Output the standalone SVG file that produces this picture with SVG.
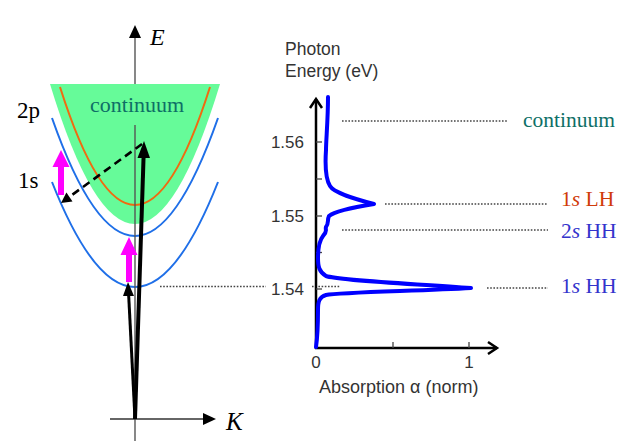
<svg xmlns="http://www.w3.org/2000/svg" width="619" height="441" viewBox="0 0 619 441">
<style>
.serif{font-family:"Liberation Serif","Times New Roman",serif}
.sans{font-family:"Liberation Sans",Arial,sans-serif;fill:#333}
.dot{stroke:#444;stroke-width:1.6;stroke-dasharray:1.6 1.6;fill:none}
.blue{stroke:#1f6fe8;stroke-width:2;fill:none}
.tick{stroke:#444;stroke-width:1.3}
.teal{fill:#0e6f66}
</style>
<rect width="619" height="441" fill="#ffffff"/>
<g id="band-diagram">
  <g id="continuum-region">
    <path d="M50,84 Q135,364 220,84 Z" fill="#66fb99"/>
    <path d="M60,87 Q135,323 210,87" fill="none" stroke="#f06a10" stroke-width="2"/>
    <text class="serif teal" x="90" y="112" font-size="22">continuum</text>
  </g>
  <g id="band-2p"><path class="blue" d="M52,118 Q135,354 218,118"/></g>
  <g id="band-1s"><path class="blue" d="M52,182 Q135,392 218,182"/></g>
  <g id="axis-E">
    <line x1="135" y1="37" x2="135" y2="84" stroke="#555" stroke-width="1.4"/>
    <line x1="135" y1="125" x2="135" y2="441" stroke="#555" stroke-width="1.4"/>
    <polygon points="135,25 141,38 129,38" fill="#000"/>
    <text class="serif" x="150" y="45" font-size="24" font-style="italic">E</text>
  </g>
  <g id="axis-K">
    <line x1="110" y1="419" x2="204" y2="419" stroke="#333" stroke-width="1.4"/>
    <polygon points="216,419 203,413 203,425" fill="#000"/>
    <text class="serif" x="226" y="430" font-size="25" font-style="italic">K</text>
  </g>
  <g id="label-2p"><text class="serif" x="17" y="118" font-size="23">2p</text></g>
  <g id="label-1s"><text class="serif" x="18" y="188" font-size="23">1s</text></g>
</g>
<g id="connectors">
  <line x1="135" y1="419" x2="143.6" y2="156" stroke="#000" stroke-width="4"/>
  <polygon points="144,141 150,158 137.5,158" fill="#000"/>
  <line x1="135" y1="419" x2="128.6" y2="294" stroke="#000" stroke-width="3"/>
  <polygon points="128,282 134,296 123,296" fill="#000"/>
  <line x1="142" y1="144" x2="69.1" y2="197.1" stroke="#000" stroke-width="2.6" stroke-dasharray="8 5"/>
  <polygon points="61,203 72.5,201.5 66.4,192.5" fill="#000"/>
  <polygon points="61,150 69.5,167 64,167 64,195 58,195 58,167 52.5,167" fill="#ff00ff"/>
  <polygon points="129,237 137.5,255 132,255 132,282 126,282 126,255 120.5,255" fill="#ff00ff"/>
  <line class="dot" x1="160" y1="286.5" x2="266" y2="286.5"/>
  <line class="dot" x1="312" y1="286.5" x2="340" y2="286.5"/>
  <line class="dot" x1="342" y1="121" x2="507" y2="121"/>
  <line class="dot" x1="385" y1="204" x2="548" y2="204"/>
  <line class="dot" x1="342" y1="230" x2="548" y2="230"/>
  <line class="dot" x1="487" y1="288" x2="548" y2="288"/>
</g>
<g id="spectrum-plot">
  <text class="sans" x="285" y="55" font-size="17.5">Photon</text>
  <text class="sans" x="285" y="77" font-size="17.5">Energy (eV)</text>
  <line x1="316" y1="349" x2="316" y2="99" stroke="#000" stroke-width="2.5"/>
  <polyline points="310,108 316,99 322,108" fill="none" stroke="#000" stroke-width="2.5" stroke-linejoin="miter"/>
  <line x1="315" y1="348" x2="497" y2="348" stroke="#000" stroke-width="2.5"/>
  <polyline points="488,342 497,348 488,354" fill="none" stroke="#000" stroke-width="2.5"/>
  <line class="tick" x1="316" y1="142" x2="322" y2="142"/>
  <line class="tick" x1="316" y1="179" x2="322" y2="179"/>
  <line class="tick" x1="316" y1="216" x2="322" y2="216"/>
  <line class="tick" x1="316" y1="252.5" x2="322" y2="252.5"/>
  <line class="tick" x1="316" y1="289" x2="322" y2="289"/>
  <line class="tick" x1="393" y1="348" x2="393" y2="342"/>
  <line class="tick" x1="469" y1="348" x2="469" y2="342"/>
  <text class="sans" x="304" y="148" font-size="17" text-anchor="end">1.56</text>
  <text class="sans" x="304" y="222" font-size="17" text-anchor="end">1.55</text>
  <text class="sans" x="304" y="295" font-size="17" text-anchor="end">1.54</text>
  <text class="sans" x="316" y="368" font-size="17" text-anchor="middle">0</text>
  <text class="sans" x="469" y="368" font-size="17" text-anchor="middle">1</text>
  <text class="sans" x="319" y="393" font-size="18">Absorption α (norm)</text>
  <path d="M328,97 C328,120 326,140 326,150 C325,165 325,178 330,186 C334,193 355,199 374,204 C355,207 335,211 329,216 C327,220 329,224 326,227 C325,230 328,231 323,236 C319,241 318,250 318,258 C318,266 319,272 326,276 C340,281 420,284 471,288 C420,291 340,292 326,295 C319,297 318,302 318,310 C318,325 317,340 316,347" fill="none" stroke="#0000ff" stroke-width="4" stroke-linejoin="round" stroke-linecap="round"/>
</g>
<g id="level-labels">
  <text class="serif teal" x="523" y="127" font-size="21.5">continuum</text>
  <text class="serif" x="561" y="206" font-size="21.5" fill="#d03a0a">1<tspan font-style="italic">s</tspan> LH</text>
  <text class="serif" x="561" y="238" font-size="21.5" fill="#3333cc">2<tspan font-style="italic">s</tspan> HH</text>
  <text class="serif" x="561" y="293" font-size="21.5" fill="#3333cc">1<tspan font-style="italic">s</tspan> HH</text>
</g>
</svg>
